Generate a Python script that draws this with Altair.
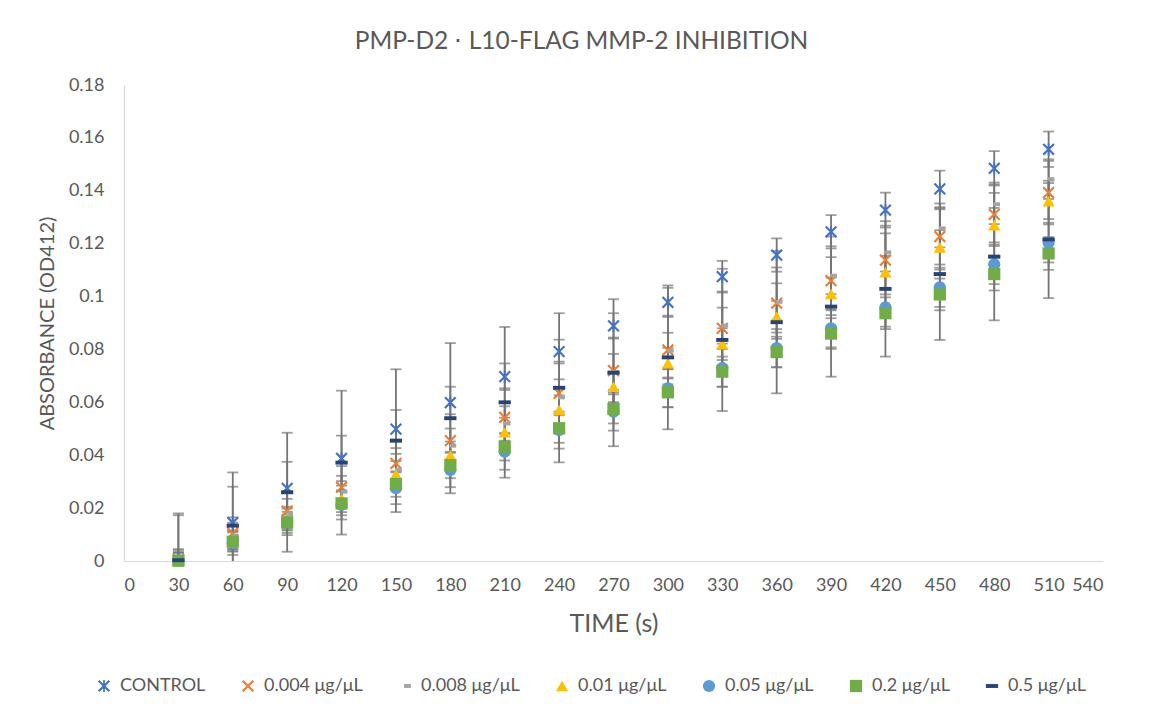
import altair as alt
import pandas as pd

# ---- data ----
times = [30, 60, 90, 120, 150, 180, 210, 240, 270, 300, 330, 360, 390, 420, 450, 480, 510]

series_names = ["CONTROL", "0.004 μg/μL", "0.008 μg/μL", "0.01 μg/μL",
                "0.05 μg/μL", "0.2 μg/μL", "0.5 μg/μL"]

control = [0.0005, 0.0145, 0.0275, 0.0388, 0.0499, 0.0599, 0.0697, 0.0792, 0.0889,
           0.0978, 0.1075, 0.1157, 0.1245, 0.1327, 0.1407, 0.1485, 0.1557]
c004 = [0.0005, 0.0105, 0.0189, 0.0279, 0.0369, 0.0455, 0.0543, 0.0634, 0.0720,
        0.0798, 0.0880, 0.0975, 0.1060, 0.1138, 0.1227, 0.1311, 0.1393]
c008 = [0.0005, 0.0095, 0.0180, 0.0262, 0.0345, 0.0436, 0.0520, 0.0619, 0.0715,
        0.0795, 0.0890, 0.0980, 0.1079, 0.1167, 0.1258, 0.1349, 0.1444]
c01 = [0.0003, 0.0075, 0.0160, 0.0235, 0.0328, 0.0400, 0.0487, 0.0571, 0.0659,
       0.0748, 0.0820, 0.0924, 0.1010, 0.1092, 0.1186, 0.1270, 0.1361]
c05 = [0.0002, 0.0068, 0.0148, 0.0212, 0.0275, 0.0344, 0.0413, 0.0495, 0.0565,
       0.0653, 0.0730, 0.0805, 0.0880, 0.0959, 0.1035, 0.1122, 0.1204]
c2 = [0.0001, 0.0073, 0.0146, 0.0218, 0.0291, 0.0363, 0.0432, 0.0502, 0.0575,
      0.0638, 0.0716, 0.0790, 0.0860, 0.0937, 0.1008, 0.1085, 0.1163]
c5 = [0.0003, 0.0134, 0.0260, 0.0372, 0.0455, 0.0540, 0.0600, 0.0655, 0.0712,
      0.0770, 0.0836, 0.0903, 0.0962, 0.1029, 0.1085, 0.1151, 0.1216]

control_err = [0.0175, 0.0190, 0.0100, 0.0086, 0.0072, 0.0060, 0.0050, 0.0045, 0.0048,
               0.0055, 0.0060, 0.0063, 0.0063, 0.0066, 0.0069, 0.0065, 0.0067]
c004_err = [0.0040, 0.0060, 0.0070, 0.0080, 0.0090, 0.0100, 0.0110, 0.0120, 0.0125,
            0.0130, 0.0139, 0.0135, 0.0130, 0.0130, 0.0125, 0.0120, 0.0120]
c008_err = [0.0035, 0.0050, 0.0055, 0.0060, 0.0060, 0.0065, 0.0065, 0.0068, 0.0068,
            0.0068, 0.0068, 0.0070, 0.0070, 0.0072, 0.0072, 0.0075, 0.0075]
c01_err = [0.0030, 0.0040, 0.0045, 0.0050, 0.0050, 0.0052, 0.0055, 0.0055, 0.0058,
           0.0058, 0.0060, 0.0060, 0.0062, 0.0062, 0.0065, 0.0065, 0.0068]
c05_err = [0.0030, 0.0045, 0.0050, 0.0055, 0.0060, 0.0065, 0.0068, 0.0070, 0.0072,
           0.0072, 0.0071, 0.0072, 0.0072, 0.0073, 0.0074, 0.0075, 0.0075]
c2_err = [0.0030, 0.0035, 0.0040, 0.0045, 0.0048, 0.0050, 0.0052, 0.0055, 0.0055,
          0.0056, 0.0057, 0.0058, 0.0058, 0.0060, 0.0060, 0.0062, 0.0062]
c5_err = [0.0170, 0.0147, 0.0225, 0.0272, 0.0270, 0.0284, 0.0285, 0.0282, 0.0278,
          0.0272, 0.0269, 0.0269, 0.0265, 0.0256, 0.0249, 0.0241, 0.0222]

x_ticks = list(range(0, 541, 30))
y_ticks = [0, 0.02, 0.04, 0.06, 0.08, 0.1, 0.12, 0.14, 0.16, 0.18]

# ---- styling ----
colors = ["#4472C4", "#ED7D31", "#A5A5A5", "#FFC000", "#5B9BD5", "#70AD47", "#264478"]
X_PATH = ("M-1,-0.75L-0.75,-1L0,-0.25L0.75,-1L1,-0.75L0.25,0L1,0.75L0.75,1"
          "L0,0.25L-0.75,1L-1,0.75L-0.25,0Z")
STAR_PATH = X_PATH + "M-0.14,-1L0.14,-1L0.14,1L-0.14,1Z"
GRAY_DASH = "M-0.15,-0.32L0.95,-0.32L0.95,0.32L-0.15,0.32Z"
NAVY_DASH = "M-1,-0.32L1,-0.32L1,0.32L-1,0.32Z"
shapes = [STAR_PATH, X_PATH, GRAY_DASH, "triangle-up", "circle", "square", NAVY_DASH]

means = [control, c004, c008, c01, c05, c2, c5]
errs = [control_err, c004_err, c008_err, c01_err, c05_err, c2_err, c5_err]

rows = []
for name, m, e in zip(series_names, means, errs):
    for t, v, s in zip(times, m, e):
        rows.append({"time": t, "series": name, "mean": v, "lo": v - s, "hi": v + s})
df = pd.DataFrame(rows)

FONT = "Lato"
TXT = "#595959"

xscale = alt.Scale(domain=[0, 540], nice=False)
yscale = alt.Scale(domain=[0, 0.18], nice=False)

xaxis = alt.Axis(values=x_ticks, title="TIME (s)", grid=False, ticks=False, tickSize=0,
                 labelPadding=15, labelFontSize=18, labelColor=TXT, labelFont=FONT,
                 titleFontSize=25, titleColor=TXT, titleFont=FONT, titleFontWeight="normal",
                 titlePadding=17, domainColor="#D9D9D9", domainWidth=1.2)
yaxis = alt.Axis(values=y_ticks, format="~g", title="ABSORBANCE (OD412)", grid=False,
                 ticks=False, tickSize=0, labelPadding=20, labelFontSize=18,
                 labelColor=TXT, labelFont=FONT, titleFontSize=20, titleColor=TXT,
                 titleFont=FONT, titleFontWeight="normal", titlePadding=11,
                 domainColor="#D9D9D9", domainWidth=1.2)

base = alt.Chart(df)

bars = base.mark_rule(color="#757575", strokeWidth=1.8, clip=True).encode(
    x=alt.X("time:Q", scale=xscale, axis=xaxis),
    y=alt.Y("lo:Q", scale=yscale, axis=yaxis),
    y2="hi:Q",
)
cap_lo = base.mark_tick(color="#757575", orient="horizontal", size=11, thickness=1.8,
                        clip=True).encode(
    x=alt.X("time:Q", scale=xscale), y=alt.Y("lo:Q", scale=yscale))
cap_hi = base.mark_tick(color="#757575", orient="horizontal", size=11, thickness=1.8,
                        clip=True).encode(
    x=alt.X("time:Q", scale=xscale), y=alt.Y("hi:Q", scale=yscale))

legend = alt.Legend(title=None, orient="none", direction="horizontal", columns=7,
                    legendX=-29, legendY=592, labelFontSize=18, labelFont=FONT,
                    labelColor=TXT, symbolSize=150, symbolStrokeWidth=0,
                    columnPadding=33, labelOffset=7, symbolOpacity=1)

points = base.mark_point(filled=True, opacity=1, size=150).encode(
    x=alt.X("time:Q", scale=xscale),
    y=alt.Y("mean:Q", scale=yscale),
    color=alt.Color("series:N", scale=alt.Scale(domain=series_names, range=colors),
                    legend=legend),
    shape=alt.Shape("series:N", scale=alt.Scale(domain=series_names, range=shapes),
                    legend=legend),
)

chart = alt.layer(bars, cap_lo, cap_hi, points).properties(
    width=979, height=476,
    title=alt.TitleParams("PMP-D2 ⋅ L10-FLAG MMP-2 INHIBITION", fontSize=24.5, font=FONT,
                          color=TXT, fontWeight="normal", anchor="middle", dx=-32,
                          offset=22),
    autosize=alt.AutoSizeParams(type="none"),
    padding={"left": 124, "top": 85, "right": 50, "bottom": 152},
    background="white",
).configure_view(stroke=None)

chart.save("out.html", embed_options={"renderer": "svg", "actions": False})
